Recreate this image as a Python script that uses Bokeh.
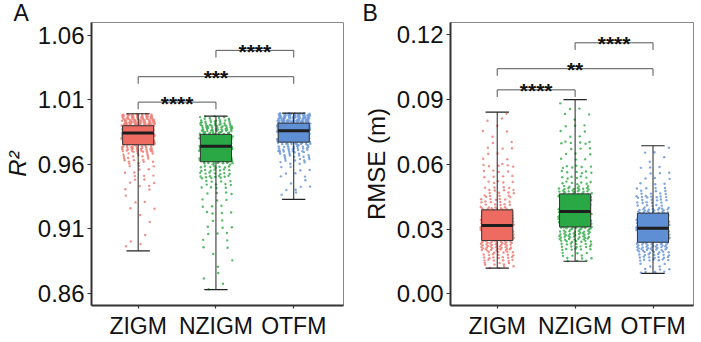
import numpy as np
from bokeh.plotting import figure
from bokeh.models import Range1d, FixedTicker, PrintfTickFormatter
from bokeh.layouts import row
from bokeh.core.properties import value
from bokeh.embed import file_html
from bokeh.resources import INLINE

# ---------------- data ----------------
categories = ["ZIGM", "NZIGM", "OTFM"]
box_colors = ["#EE6B62", "#2AA845", "#5E8ED3"]
point_colors = ["#EF7C73", "#38AE4E", "#6B98DA"]

# Panel A: R^2
r2_low = [0.893, 0.863, 0.933]
r2_q1 = [0.9753, 0.9621, 0.9773]
r2_median = [0.9843, 0.9742, 0.9861]
r2_q3 = [0.9900, 0.9833, 0.9920]
r2_high = [0.9993, 0.9975, 0.9998]
r2_bin_edges = [0.86, 0.88, 0.90, 0.92, 0.94, 0.95, 0.96, 0.965, 0.97,
                0.975, 0.98, 0.985, 0.99, 0.995, 1.0]
r2_counts_zigm = [0, 2, 3, 6, 8, 10, 10, 15, 30, 50, 60, 60, 55, 40]
r2_counts_nzigm = [4, 5, 10, 14, 15, 30, 30, 40, 45, 45, 40, 35, 25, 8]
r2_counts_otfm = [0, 0, 0, 2, 6, 8, 10, 15, 25, 35, 50, 60, 65, 55]
r2_ticks = [0.86, 0.91, 0.96, 1.01, 1.06]
r2_pairs = [(0, 1), (0, 2), (1, 2)]
r2_bracket_y = [1.0083, 1.0280, 1.0484]
r2_signif = ["****", "***", "****"]

# Panel B: RMSE (m)
rmse_low = [0.0119, 0.0151, 0.0095]
rmse_q1 = [0.0247, 0.0310, 0.0239]
rmse_median = [0.0317, 0.0381, 0.0304]
rmse_q3 = [0.0389, 0.0463, 0.0374]
rmse_high = [0.0842, 0.0900, 0.0686]
rmse_bin_edges = [0.005, 0.01, 0.015, 0.02, 0.025, 0.03, 0.035, 0.04,
                  0.045, 0.05, 0.06, 0.07, 0.08, 0.09]
rmse_counts_zigm = [0, 10, 25, 48, 60, 60, 45, 20, 16, 18, 9, 5, 3]
rmse_counts_nzigm = [0, 0, 12, 25, 40, 55, 55, 50, 35, 25, 12, 10, 6]
rmse_counts_otfm = [2, 10, 28, 45, 55, 55, 40, 20, 15, 12, 5, 0, 0]
rmse_ticks = [0.00, 0.03, 0.06, 0.09, 0.12]
rmse_pairs = [(0, 1), (0, 2), (1, 2)]
rmse_bracket_y = [0.0945, 0.1043, 0.1163]
rmse_signif = ["****", "**", "****"]

FONT = "Liberation Sans"


def cloud(edges, counts, lo, hi, center, width):
    """Spread each bin's points over the bin (clipped to whiskers) with a
    deterministic low-discrepancy layout for the horizontal jitter."""
    xs, ys = [], []
    k = 0
    for a, b, n in zip(edges[:-1], edges[1:], counts):
        a2, b2 = max(a, lo), min(b, hi)
        if n == 0 or b2 <= a2:
            continue
        for i in range(n):
            k += 1
            u = (k * 0.7548776662466927) % 1.0
            v = (k * 0.5698402909980532) % 1.0
            ys.append(a2 + u * (b2 - a2))
            xs.append(center + (v - 0.5) * width)
    return xs, ys


def make_panel(letter, ylabel, italic, yr, xr, ticks, low, q1, med, q3, high,
               edges, counts_list, pairs, bracket_y, signif, drop,
               width, border_left, border_right):
    p = figure(width=width, height=342, x_range=Range1d(*xr), y_range=Range1d(*yr),
               output_backend="svg", toolbar_location=None,
               min_border_left=border_left, min_border_right=border_right,
               min_border_top=22, min_border_bottom=37)
    p.xgrid.visible = False
    p.ygrid.visible = False
    p.outline_line_color = "#8A8A8A"
    p.outline_line_width = 1
    p.background_fill_color = "white"
    p.border_fill_color = "white"

    # panel letter, drawn as a title shifted to the left edge
    p.title.text = letter
    p.title.text_font = FONT
    p.title.text_font_size = "23px"
    p.title.text_font_style = "normal"
    p.title.text_color = "#111111"
    p.title.align = "left"
    p.title.offset = -(border_left - 12)
    p.title.standoff = -7

    xc = np.arange(1, len(categories) + 1)

    # jittered points
    for i in range(len(categories)):
        xs, ys = cloud(edges, counts_list[i], low[i], high[i], xc[i], 0.43)
        p.scatter(xs, ys, size=2.4, color=point_colors[i], alpha=0.85,
                  line_width=0)

    # whiskers
    p.segment(x0=xc, x1=xc, y0=low, y1=q1, line_color="#222222", line_width=1)
    p.segment(x0=xc, x1=xc, y0=q3, y1=high, line_color="#222222", line_width=1)
    p.segment(x0=xc - 0.15, x1=xc + 0.15, y0=low, y1=low, line_color="#222222", line_width=1.2)
    p.segment(x0=xc - 0.15, x1=xc + 0.15, y0=high, y1=high, line_color="#222222", line_width=1.2)
    # boxes
    p.vbar(x=xc, width=0.4, bottom=q1, top=q3, fill_color=box_colors,
           line_color="#333333", line_width=1)
    p.segment(x0=xc - 0.2, x1=xc + 0.2, y0=med, y1=med, line_color="#1E1E1E", line_width=3)

    # significance brackets
    bx, by = [], []
    tx, ty = [], []
    for (a, b), yv in zip(pairs, bracket_y):
        bx.append([xc[a], xc[a], xc[b], xc[b]])
        by.append([yv - drop, yv, yv, yv - drop])
        tx.append((xc[a] + xc[b]) / 2)
        ty.append(yv)
    p.multi_line(bx, by, line_color="#555555", line_width=1)
    p.text(x=tx, y=ty, text=signif, text_align="center", text_baseline="alphabetic",
           text_font=value(FONT), text_font_style="bold", text_font_size="21px",
           text_color="#111111", y_offset=1)

    # axes
    p.yaxis.ticker = FixedTicker(ticks=ticks)
    p.yaxis.formatter = PrintfTickFormatter(format="%.2f")
    p.xaxis.ticker = FixedTicker(ticks=list(xc))
    p.xaxis.major_label_overrides = {int(x): c for x, c in zip(xc, categories)}
    for ax in (p.xaxis[0], p.yaxis[0]):
        ax.axis_line_width = 2
        ax.axis_line_color = "#333333"
        ax.major_tick_line_color = "#333333"
        ax.major_tick_line_width = 1.2
        ax.major_tick_in = 0
        ax.minor_tick_line_color = None
        ax.major_label_text_font = FONT
        ax.major_label_text_color = "#111111"
    p.yaxis.major_label_text_font_size = "24px"
    p.xaxis.major_label_text_font_size = "23px"
    p.yaxis.major_tick_out = 4
    p.yaxis.major_label_standoff = 3
    p.xaxis.major_tick_out = 3
    p.xaxis.major_label_standoff = 4
    p.yaxis.axis_label = ylabel
    p.yaxis.axis_label_text_font = FONT
    p.yaxis.axis_label_text_font_size = "24px"
    p.yaxis.axis_label_text_font_style = "italic" if italic else "normal"
    p.yaxis.axis_label_text_color = "#111111"
    p.yaxis.axis_label_standoff = 4
    return p


pA = make_panel("A", "R²", True, (0.8507, 1.070), (0.40, 3.64), r2_ticks,
                r2_low, r2_q1, r2_median, r2_q3, r2_high, r2_bin_edges,
                [r2_counts_zigm, r2_counts_nzigm, r2_counts_otfm],
                r2_pairs, r2_bracket_y, r2_signif, 0.0055,
                350, 90, 7)
pB = make_panel("B", "RMSE (m)", False, (-0.0054, 0.1257), (0.40, 3.52), rmse_ticks,
                rmse_low, rmse_q1, rmse_median, rmse_q3, rmse_high, rmse_bin_edges,
                [rmse_counts_zigm, rmse_counts_nzigm, rmse_counts_otfm],
                rmse_pairs, rmse_bracket_y, rmse_signif, 0.0033,
                351, 100, 8)

layout = row(pA, pB)
open("out.html", "w").write(file_html(layout, INLINE))
